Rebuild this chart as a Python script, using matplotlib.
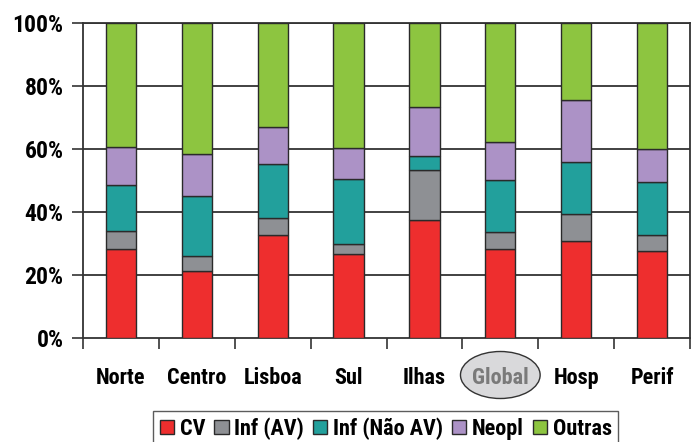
import matplotlib
matplotlib.use('Agg')

import matplotlib.pyplot as plt
import matplotlib.transforms as mtransforms
from matplotlib.patches import Ellipse
import numpy as np

# categorias e percentagens
regioes = ['Norte', 'Centro', 'Lisboa', 'Sul', 'Ilhas', 'Global', 'Hosp', 'Perif']
cv      = [28.3, 21.3, 32.7, 26.7, 37.5, 28.3, 30.7, 27.7]
inf_av  = [5.8, 4.7, 5.5, 3.1, 15.8, 5.4, 8.7, 5.0]
inf_nav = [14.5, 19.2, 17.0, 20.6, 4.6, 16.5, 16.4, 16.9]
neopl   = [12.1, 13.3, 11.9, 9.8, 15.5, 11.9, 19.8, 10.5]
outras  = [39.3, 41.5, 32.9, 39.8, 26.6, 37.9, 24.4, 39.9]

series  = [cv, inf_av, inf_nav, neopl, outras]
nomes   = ['CV', 'Inf (AV)', 'Inf (Não AV)', 'Neopl', 'Outras']
cores   = ['#EE2E2E', '#8E9094', '#22A09C', '#AC92C6', '#8DC540']
yticks  = [0, 20, 40, 60, 80, 100]

plt.rcParams['font.family'] = ['Roboto Condensed', 'Liberation Sans', 'DejaVu Sans']
plt.rcParams['font.weight'] = 'bold'

fig = plt.figure(figsize=(7.0, 4.42), dpi=100)
ax = fig.add_axes([0.1186, 0.2353, 0.8671, 0.7127])

x = np.arange(len(regioes))
base = np.zeros(len(regioes))
for vals, nome, cor in zip(series, nomes, cores):
  ax.bar(x, vals, width=0.40, bottom=base, color=cor, edgecolor='#2a2a2a',
         linewidth=1.0, label=nome, zorder=3)
  base += np.array(vals)

ax.set_xlim(-0.5, len(regioes) - 0.5)
ax.set_ylim(0, 100)

# grelha horizontal
for v in yticks[1:]:
  ax.axhline(v, color='#333333', linewidth=1.3, zorder=1)

ax.set_yticks(yticks)
ax.set_yticklabels([str(v) + '%' for v in yticks], fontsize=17, fontweight='bold')
ax.tick_params(axis='y', direction='out', length=8, width=1.2, color='#333333', pad=6)

# ticks do eixo x entre categorias
ax.set_xticks(np.arange(len(regioes) + 1) - 0.5)
ax.set_xticklabels([])
ax.set_xticks(x, minor=True)
ax.set_xticklabels(regioes, minor=True, fontsize=16, fontweight='bold')
ax.tick_params(axis='x', which='major', direction='out', length=8, width=1.2, color='#333333')
ax.tick_params(axis='x', which='minor', length=0, pad=21)

# destaque do "Global"
ig = regioes.index('Global')
for lab in ax.get_xticklabels(minor=True):
  if lab.get_text() == 'Global':
    lab.set_color('#7a7a7a')
trans = mtransforms.blended_transform_factory(ax.transData, fig.transFigure)
elip = Ellipse((ig, 1 - 375.0 / 442), width=1.05, height=47.0 / 442,
               transform=trans, facecolor='#D9D9DB', edgecolor='#333333',
               linewidth=1.0, clip_on=False, zorder=0)
ax.add_artist(elip)

for s in ['left', 'right', 'bottom', 'top']:
  ax.spines[s].set_color('#333333')
  ax.spines[s].set_linewidth(1.3)

leg = fig.legend(loc='upper center', bbox_to_anchor=(0.551, 0.071), ncol=5,
                 fontsize=16, frameon=True, fancybox=False, edgecolor='#333333',
                 handlelength=0.65, handleheight=0.65, handletextpad=0.25,
                 columnspacing=0.4, borderpad=0.3, borderaxespad=0)
leg.get_frame().set_linewidth(1.0)
for t in leg.get_texts():
  t.set_fontweight('bold')

plt.savefig('out.png', dpi=100)
plt.close()
